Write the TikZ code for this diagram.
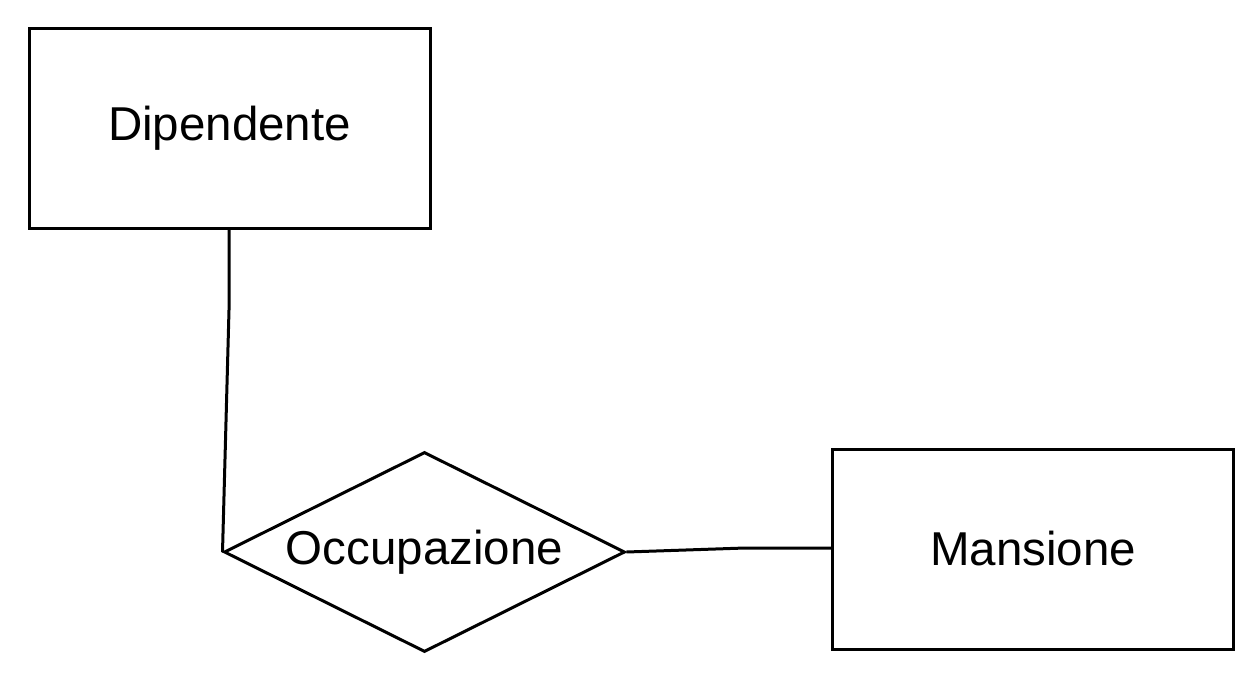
\documentclass[tikz,border=0pt]{standalone}
\usepackage{fontspec}
\setmainfont{Liberation Sans}
\usetikzlibrary{shapes.geometric}
\begin{document}
\begin{tikzpicture}[x=1pt,y=-1pt,line width=3pt,
  entity/.style={draw,rectangle,minimum width=401pt,minimum height=200pt,inner sep=0pt,font=\fontsize{47.5}{57}\selectfont},
  relation/.style={draw,diamond,minimum width=401pt,minimum height=200pt,aspect=2,inner sep=0pt,font=\fontsize{47.5}{57}\selectfont},
  link/.style={line width=3pt}]
\useasboundingbox (0,0) rectangle (1260,680);
\node[entity] (dip) at (229.5,128.5) {Dipendente};
\node[entity] (man) at (1033,549) {Mansione};
\node[draw,line width=3pt,shape=diamond,aspect=2,minimum width=401pt,minimum height=200pt,inner sep=0pt,font=\fontsize{47.5}{57}\selectfont] (occ) at (424.5,552) {Occupazione};
\coordinate (w1) at (229,310);
\coordinate (w2) at (745,548);
\draw[link] (dip.south -| w1) -- (w1) -- (occ.west);
\draw[link] (occ.east) -- (w2) -- (w2 -| man.west);
\end{tikzpicture}
\end{document}
